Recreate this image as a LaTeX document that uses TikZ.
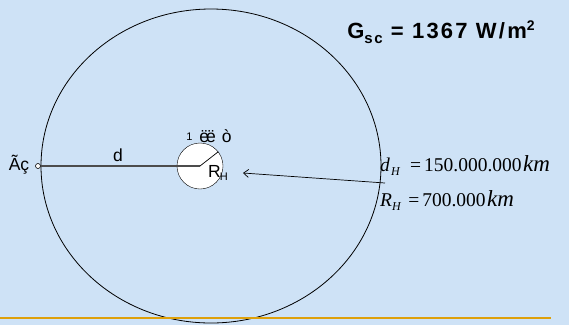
\documentclass[tikz,border=0pt]{standalone}
\usepackage{fontspec}
\setmainfont{Liberation Sans}
\newfontfamily\timesfont{Liberation Serif}
\newfontfamily\widesans[LetterSpace=10]{Liberation Sans}
\usetikzlibrary{arrows.meta, positioning}
\definecolor{skyback}{RGB}{206, 226, 246}
\definecolor{goldline}{RGB}{222, 160, 10}
\newcommand{\wkm}{\kern1.5pt{\fontsize{23}{24}\selectfont\textit{km}}}

\begin{document}
\begin{tikzpicture}[
  x=1pt, y=-1pt,
  lbl/.style={inner sep=0pt, font=\fontsize{17.5}{20}\selectfont},
  eqn/.style={inner sep=0pt, anchor=west, font=\timesfont\fontsize{19.5}{22}\selectfont},
  body/.style={circle, draw, fill=white, inner sep=0pt}
]
  \fill[skyback] (0,0) rectangle (569,325);
  \useasboundingbox (0,0) rectangle (569,325);
  \draw[line width=0.8pt] (211,166) ellipse [x radius=170, y radius=157];
  \node[body, minimum size=46pt] (sun) at (200,166) {};
  \node[body, minimum size=5pt, line width=0.6pt] (earth) at (38,166) {};
  \draw[gray!60!black, line width=1.6pt] (earth.east) -- (sun.center);
  \draw[line width=0.7pt] (sun.center) -- (sun.38);
  \node[lbl] (earthname) at (19,165) {Ãç};
  \node[lbl] (dist) at (118,155) {d};
  \node[lbl, font=\fontsize{17.5}{19}\selectfont] (sunname) at (209,136)
    {\raisebox{2pt}{\fontsize{11}{12}\selectfont 1}\kern7pt ë\kern-3pt ë\kern6pt ò};
  \node[lbl, anchor=west] (radius) at (208,173) {R\kern-1pt\raisebox{-3.5pt}{\fontsize{11}{12}\selectfont H}};
  \node[inner sep=0pt, font=\widesans\bfseries\fontsize{22}{25}\selectfont] (gsc) at (441,32)
    {G\raisebox{-5pt}{\fontsize{15}{16}\selectfont sc} = 1367 W/m\raisebox{8pt}{\fontsize{14}{15}\selectfont 2}};
  \node[eqn] (deq) at (380,166)
    {\textit{d}\kern1pt\raisebox{-4pt}{\fontsize{12}{13}\selectfont\textit{H}}\kern10pt=\kern3pt 150.000.000\wkm};
  \node[eqn] (req) at (380,201)
    {\textit{R}\raisebox{-4pt}{\fontsize{12}{13}\selectfont\textit{H}}\kern7pt=\kern3pt 700.000\wkm};
  \coordinate (tail) at (385,183);
  \coordinate (tip) at (243,173);
  \draw[-{Straight Barb[length=5pt, width=8pt]}, line width=0.7pt] (tail) -- (tip);
  \draw[goldline, line width=2.4pt] (0,318) -- (551,318);
\end{tikzpicture}
\end{document}
